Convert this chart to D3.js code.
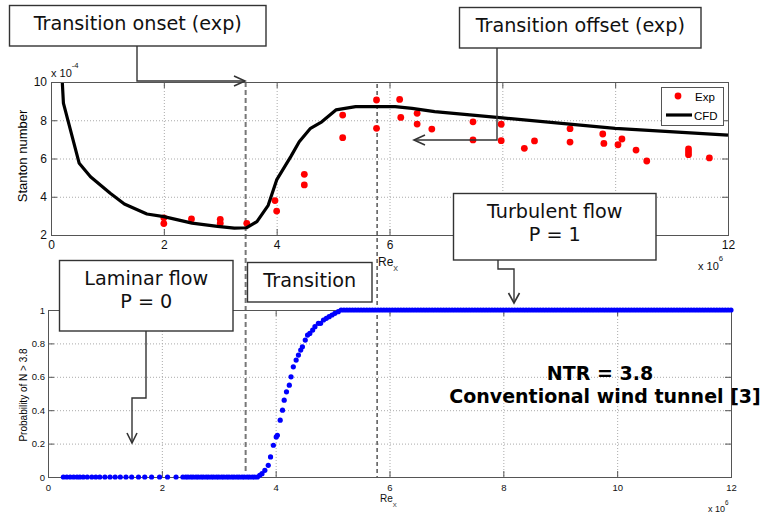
<!DOCTYPE html>
<html>
<head>
<meta charset="utf-8">
<script src="https://cdn.jsdelivr.net/npm/d3@7"></script>
<style>
  body { margin: 0; background: #fff; }
  svg { display: block; }
</style>
</head>
<body>
<svg id="fig" width="766" height="516"></svg>
<script>
// ---- Stanton number vs Re_x (units: St x 1e-4, Re_x x 1e6) ----
const cfdRe = [0.2, 0.22, 0.5, 0.7, 1.05, 1.3, 1.7, 2.0, 2.5, 2.95, 3.25, 3.47, 3.65, 3.85, 4.0, 4.25, 4.4, 4.6, 4.8, 5.05, 5.4, 6.1, 6.4, 6.8, 8.0, 10.0, 12.0];
const cfdSt = [10, 8.9, 5.75, 5.05, 4.18, 3.62, 3.1, 2.96, 2.62, 2.45, 2.36, 2.38, 2.7, 3.55, 4.88, 6.1, 6.88, 7.58, 7.92, 8.54, 8.71, 8.71, 8.62, 8.45, 8.12, 7.58, 7.22];

const expRe = [2.0, 2.0, 2.49, 3.0, 3.0, 3.47, 3.97, 4.0, 4.49, 4.49, 5.17, 5.17, 5.77, 5.77, 6.18, 6.2, 6.49, 6.49, 6.75, 7.48, 7.48, 7.98, 7.98, 8.39, 8.57, 9.2, 9.2, 9.78, 9.8, 10.05, 10.12, 10.37, 10.56, 11.3, 11.3, 11.3, 11.67];
const expSt = [2.9, 2.6, 2.84, 2.82, 2.62, 2.61, 3.8, 3.25, 5.17, 4.62, 8.27, 7.09, 9.06, 7.58, 9.09, 8.15, 8.36, 7.8, 7.54, 7.92, 6.97, 7.79, 6.93, 6.53, 6.92, 7.56, 6.86, 7.28, 6.79, 6.72, 7.02, 6.44, 5.87, 6.5, 6.35, 6.2, 6.03];

// ---- Probability of N > 3.8 vs Re_x ----
const laminarRe = [0.27, 0.33, 0.39, 0.45, 0.51, 0.56, 0.62, 0.69, 0.77, 0.84, 0.91, 1.0, 1.09, 1.18, 1.27, 1.37, 1.47, 1.59, 1.7, 1.82, 1.96, 2.1, 2.25,
  2.37, 2.42, 2.46, 2.51, 2.55, 2.6, 2.64, 2.69, 2.73, 2.78, 2.82, 2.87, 2.91, 2.96, 3.0, 3.05, 3.09, 3.14, 3.18, 3.23, 3.27, 3.32, 3.36, 3.41, 3.45, 3.5, 3.54, 3.59, 3.63, 3.68];
const riseRe = [3.72, 3.76, 3.81, 3.87, 3.91, 3.96, 4.01, 4.03, 4.08, 4.12, 4.15, 4.19, 4.24, 4.27, 4.31, 4.36, 4.4, 4.44, 4.47, 4.52, 4.56, 4.6, 4.65, 4.69, 4.75, 4.79, 4.84, 4.89, 4.94, 4.99, 5.04, 5.1, 5.15];
const riseP  = [0.01, 0.02, 0.04, 0.07, 0.12, 0.19, 0.24, 0.25, 0.34, 0.4, 0.46, 0.51, 0.55, 0.6, 0.66, 0.7, 0.73, 0.76, 0.78, 0.82, 0.85, 0.86, 0.88, 0.9, 0.92, 0.92, 0.94, 0.95, 0.96, 0.97, 0.98, 0.99, 1.0];
const turbulentRe = [5.2, 5.25, 5.3, 5.35, 5.4, 5.45, 5.5, 5.55, 5.6, 5.65, 5.7, 5.75, 5.8, 5.85, 5.9, 5.95,
  6.0, 6.05, 6.1, 6.15, 6.2, 6.25, 6.3, 6.35, 6.4, 6.45, 6.5, 6.55, 6.6, 6.65, 6.7, 6.75, 6.8, 6.85, 6.9, 6.95,
  7.0, 7.05, 7.1, 7.15, 7.2, 7.25, 7.3, 7.35, 7.4, 7.45, 7.5, 7.55, 7.6, 7.65, 7.7, 7.75, 7.8, 7.85, 7.9, 7.95,
  8.0, 8.05, 8.1, 8.15, 8.2, 8.25, 8.3, 8.35, 8.4, 8.45, 8.5, 8.55, 8.6, 8.65, 8.7, 8.75, 8.8, 8.85, 8.9, 8.95,
  9.0, 9.05, 9.1, 9.15, 9.2, 9.25, 9.3, 9.35, 9.4, 9.45, 9.5, 9.55, 9.6, 9.65, 9.7, 9.75, 9.8, 9.85, 9.9, 9.95,
  10.0, 10.05, 10.1, 10.15, 10.2, 10.25, 10.3, 10.35, 10.4, 10.45, 10.5, 10.55, 10.6, 10.65, 10.7, 10.75, 10.8, 10.85, 10.9, 10.95,
  11.0, 11.05, 11.1, 11.15, 11.2, 11.25, 11.3, 11.35, 11.4, 11.45, 11.5, 11.55, 11.6, 11.65, 11.7, 11.75, 11.8, 11.85, 11.9, 11.95, 12.0];

// ---- ticks and markers ----
const xTicks = [0, 2, 4, 6, 8, 10, 12];
const stTicks = [2, 4, 6, 8, 10];
const pTicks = [0, 0.2, 0.4, 0.6, 0.8, 1];
const pTickLabels = ["0", "0.2", "0.4", "0.6", "0.8", "1"];
const onsetRe = 3.45;   // experimental transition onset
const offsetRe = 5.78;  // experimental transition offset

const SANS = "'Liberation Sans', Arial, Helvetica, sans-serif";
const DEJAVU = "'DejaVu Sans', sans-serif";

const svg = d3.select('#fig');
svg.append('rect').attr('width', 766).attr('height', 516).attr('fill', '#fff');

const xTop = d3.scaleLinear().domain([0, 12]).range([51, 728]);
const yTop = d3.scaleLinear().domain([2, 10]).range([235, 82]);
const xBot = d3.scaleLinear().domain([0, 12]).range([48, 731]);
const yBot = d3.scaleLinear().domain([0, 1]).range([477, 310]);

// dotted grid
function grid(x, y, yt) {
  const g = svg.append('g').attr('stroke', '#aaa').attr('stroke-width', 1).attr('stroke-dasharray', '1,2');
  const [x0, x1] = x.range();
  const [y0, y1] = y.range();
  g.selectAll('line.gx').data(xTicks.slice(1, -1)).join('line').attr('class', 'gx')
    .attr('x1', d => x(d) + 0.5).attr('x2', d => x(d) + 0.5).attr('y1', y1).attr('y2', y0);
  g.selectAll('line.gy').data(yt.slice(1, -1)).join('line').attr('class', 'gy')
    .attr('y1', d => y(d) + 0.5).attr('y2', d => y(d) + 0.5).attr('x1', x0).attr('x2', x1);
}

// axes with inward ticks on all four sides
function frame(x, y, yt, ytFmt, fs, padX, padY) {
  const [x0, x1] = x.range();
  const [y0, y1] = y.range();
  const tl = 6;
  const style = sel => {
    sel.select('.domain').remove();
    sel.selectAll('line').attr('stroke', '#555');
    sel.selectAll('text').attr('font-family', SANS).attr('font-size', fs).attr('fill', '#111');
  };
  svg.append('g').attr('transform', `translate(0,${y0})`)
    .call(d3.axisBottom(x).tickValues(xTicks).tickFormat(d3.format('d')).tickSize(-tl).tickPadding(padX)).call(style);
  svg.append('g').attr('transform', `translate(0,${y1})`)
    .call(d3.axisTop(x).tickValues(xTicks).tickFormat('').tickSize(-tl)).call(style);
  svg.append('g').attr('transform', `translate(${x0},0)`)
    .call(d3.axisLeft(y).tickValues(yt).tickFormat(ytFmt).tickSize(-tl).tickPadding(padY)).call(style);
  svg.append('g').attr('transform', `translate(${x1},0)`)
    .call(d3.axisRight(y).tickValues(yt).tickFormat('').tickSize(-tl)).call(style);
  svg.append('rect').attr('x', x0 + 0.5).attr('y', y1 + 0.5).attr('width', x1 - x0).attr('height', y0 - y1)
    .attr('fill', 'none').attr('stroke', '#555').attr('stroke-width', 1);
}

grid(xTop, yTop, stTicks);
grid(xBot, yBot, pTicks);

// transition onset / offset markers spanning both panels
svg.append('line').attr('x1', xTop(onsetRe)).attr('x2', xTop(onsetRe)).attr('y1', 82).attr('y2', 473)
  .attr('stroke', '#777').attr('stroke-width', 2).attr('stroke-dasharray', '5,3');
svg.append('line').attr('x1', xTop(offsetRe)).attr('x2', xTop(offsetRe)).attr('y1', 84).attr('y2', 477)
  .attr('stroke', '#000').attr('stroke-width', 1).attr('stroke-dasharray', '4,3');

// ---- upper panel data ----
svg.append('g').selectAll('circle').data(expRe.map((r, i) => [r, expSt[i]])).join('circle')
  .attr('cx', d => xTop(d[0])).attr('cy', d => yTop(d[1])).attr('r', 3.4).attr('fill', '#ff0000');
svg.append('clipPath').attr('id', 'topclip').append('rect')
  .attr('x', 51).attr('y', 80).attr('width', 678).attr('height', 157);
svg.append('path').datum(cfdRe.map((r, i) => [r, cfdSt[i]]))
  .attr('clip-path', 'url(#topclip)')
  .attr('d', d3.line().x(d => xTop(d[0])).y(d => yTop(d[1])))
  .attr('fill', 'none').attr('stroke', '#000').attr('stroke-width', 3.2).attr('stroke-linejoin', 'round');

frame(xTop, yTop, stTicks, d3.format('d'), 12, 5, 4);

// ---- lower panel data ----
const probPts = laminarRe.map(r => [r, 0])
  .concat(riseRe.map((r, i) => [r, riseP[i]]))
  .concat(turbulentRe.map(r => [r, 1]));
frame(xBot, yBot, pTicks, (d, i) => pTickLabels[i], 9.5, 7, 3);
svg.append('g').selectAll('circle').data(probPts).join('circle')
  .attr('cx', d => xBot(d[0])).attr('cy', d => yBot(d[1])).attr('r', 2.6).attr('fill', '#0000ff');

// ---- axis titles and exponents ----
svg.append('text').attr('transform', 'translate(27,156) rotate(-90)').attr('text-anchor', 'middle')
  .attr('font-family', SANS).attr('font-size', 13).text('Stanton number');
svg.append('text').attr('transform', 'translate(27,395) rotate(-90)').attr('text-anchor', 'middle')
  .attr('font-family', SANS).attr('font-size', 10).text('Probability of N > 3.8');

function sciLabel(x, y, fs, exp) {
  const t = svg.append('text').attr('x', x).attr('y', y).attr('font-family', SANS).attr('font-size', fs).attr('fill', '#111');
  t.append('tspan').text('x 10');
  t.append('tspan').attr('dy', -fs * 0.8).attr('font-size', fs * 0.7).text(exp);
}
sciLabel(51, 77, 11, '-4');
sciLabel(698, 270, 11, '6');
sciLabel(708, 512, 9, '6');

function reLabel(x, y, fs) {
  const t = svg.append('text').attr('x', x).attr('y', y).attr('font-family', SANS).attr('font-size', fs).attr('fill', '#111');
  t.append('tspan').text('Re');
  t.append('tspan').attr('dy', fs * 0.45).attr('font-size', fs * 0.8).attr('fill', '#555').text('x');
}
reLabel(378, 266, 12);
reLabel(380, 502, 10);

// ---- legend ----
const lg = svg.append('g');
lg.append('rect').attr('x', 661.5).attr('y', 87.5).attr('width', 62).attr('height', 38)
  .attr('fill', '#fff').attr('stroke', '#555');
lg.append('circle').attr('cx', 678).attr('cy', 96).attr('r', 3.4).attr('fill', '#ff0000');
lg.append('text').attr('x', 695).attr('y', 101).attr('font-family', SANS).attr('font-size', 11.5).text('Exp');
lg.append('line').attr('x1', 666).attr('x2', 692).attr('y1', 115).attr('y2', 115).attr('stroke', '#000').attr('stroke-width', 3.2);
lg.append('text').attr('x', 694).attr('y', 119.5).attr('font-family', SANS).attr('font-size', 11.5).text('CFD');

// ---- annotation callouts ----
const ink = '#333';
function callout(x0, y0, x1, y1, lines) {
  svg.append('rect').attr('x', x0).attr('y', y0).attr('width', x1 - x0).attr('height', y1 - y0)
    .attr('fill', '#fff').attr('stroke', ink).attr('stroke-width', 1.4);
  lines.forEach(([txt, base]) => {
    svg.append('text').attr('x', (x0 + x1) / 2).attr('y', base).attr('text-anchor', 'middle')
      .attr('font-family', DEJAVU).attr('font-size', 19.2).attr('fill', '#111').text(txt);
  });
}
function leader(pts, head) {
  svg.append('path').attr('d', d3.line()(pts)).attr('fill', 'none').attr('stroke', ink).attr('stroke-width', 1.4);
  svg.append('path').attr('d', d3.line()(head)).attr('fill', 'none').attr('stroke', ink).attr('stroke-width', 1.6);
}

leader([[137, 46], [137, 81], [245, 81]], [[234, 76], [245, 81], [234, 86]]);
callout(9.5, 5.5, 266, 46, [['Transition onset (exp)', 30]]);

leader([[497, 48], [497, 140], [414, 140]], [[425, 135], [414, 140], [425, 145]]);
callout(459.5, 7.5, 701, 48, [['Transition offset (exp)', 32]]);

leader([[498, 260], [498, 269], [514, 269], [514, 303]], [[508.5, 293], [514, 303], [519.5, 293]]);
callout(453.5, 193.5, 656, 260, [['Turbulent flow', 218], ['P = 1', 241]]);

leader([[146, 331], [146, 398], [132, 398], [132, 443]], [[127, 433], [132, 443], [137, 433]]);
callout(59.5, 260.5, 233, 331, [['Laminar flow', 285], ['P = 0', 308]]);

callout(247.5, 262.5, 372, 302, [['Transition', 287]]);

// ---- case description ----
svg.append('text').attr('x', 600).attr('y', 380).attr('text-anchor', 'middle')
  .attr('font-family', DEJAVU).attr('font-weight', 'bold').attr('font-size', 19).text('NTR = 3.8');
svg.append('text').attr('x', 605).attr('y', 403).attr('text-anchor', 'middle')
  .attr('font-family', DEJAVU).attr('font-weight', 'bold').attr('font-size', 19).text('Conventional wind tunnel [3]');
</script>
</body>
</html>
